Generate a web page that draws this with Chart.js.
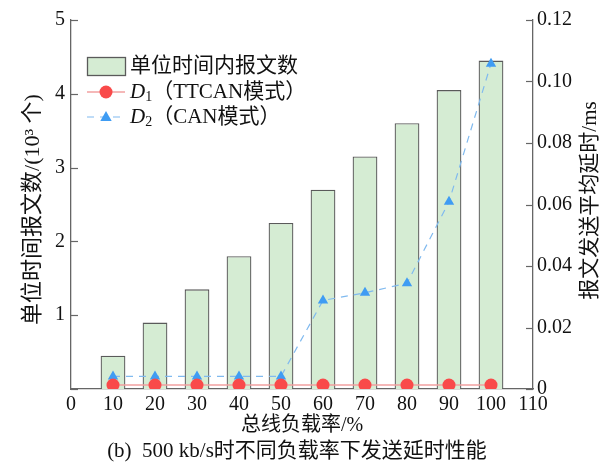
<!DOCTYPE html>
<html><head><meta charset="utf-8">
<script src="https://cdn.jsdelivr.net/npm/chart.js@4.4.1/dist/chart.umd.min.js"></script>
<style>html,body{margin:0;padding:0;background:#fff}#wrap{width:609px;height:462px;position:relative}</style>
</head><body><div id="wrap"><canvas id="c" width="609" height="462"></canvas></div>
<script>
const loads = [10, 20, 30, 40, 50, 60, 70, 80, 90, 100];
const msgCounts = [0.45, 0.9, 1.35, 1.8, 2.25, 2.7, 3.15, 3.6, 4.05, 4.45];
const d1Delay = [0.0013, 0.0013, 0.0013, 0.0013, 0.0013, 0.0013, 0.0013, 0.0013, 0.0013, 0.0013];
const d2Delay = [0.0041, 0.0041, 0.0041, 0.0041, 0.0041, 0.0288, 0.0313, 0.0344, 0.0609, 0.1058];
const xTickValues = [0, 10, 20, 30, 40, 50, 60, 70, 80, 90, 100, 110];
const leftTickValues = [0, 1, 2, 3, 4, 5];
const rightTickValues = [0, 0.02, 0.04, 0.06, 0.08, 0.10, 0.12];
const labels = {
  bars: '单位时间内报文数',
  d1: '（TTCAN模式）',
  d2: '（CAN模式）',
  xTitle: '总线负载率/%',
  yLeftTitle: '单位时间报文数/(10³ 个)',
  yRightTitle: '报文发送平均延时/ms',
  caption: '(b)  500 kb/s时不同负载率下发送延时性能'
};

const FONT = '"Liberation Serif","Noto Sans CJK SC",serif';
const AXIS = '#666666';

const extras = {
  id: 'extras',
  afterDraw(chart) {
    const ctx = chart.ctx;
    const a = chart.chartArea;
    const yl = chart.scales.y, yr = chart.scales.y1;
    ctx.save();
    // inward ticks
    ctx.strokeStyle = AXIS; ctx.lineWidth = 1.2;
    leftTickValues.forEach(v => {
      const p = Math.round(yl.getPixelForValue(v)) + 0.5;
      ctx.beginPath(); ctx.moveTo(a.left, p); ctx.lineTo(a.left + 7, p); ctx.stroke();
    });
    rightTickValues.forEach(v => {
      const p = Math.round(yr.getPixelForValue(v)) + 0.5;
      ctx.beginPath(); ctx.moveTo(a.right, p); ctx.lineTo(a.right - 7, p); ctx.stroke();
    });
    ctx.fillStyle = '#111';
    ctx.textAlign = 'center'; ctx.textBaseline = 'middle';
    const cx = (a.left + a.right) / 2, cy = (a.top + a.bottom) / 2;
    // x title and caption
    ctx.font = '20px ' + FONT;
    ctx.fillText(labels.xTitle, cx, 426);
    ctx.font = '21px ' + FONT;
    ctx.fillText(labels.caption, cx - 5, 451);
    // left title
    ctx.font = '22px ' + FONT;
    ctx.save(); ctx.translate(33, cy + 5); ctx.rotate(-Math.PI / 2);
    ctx.fillText(labels.yLeftTitle, 0, 0); ctx.restore();
    // right title
    ctx.font = '21px ' + FONT;
    ctx.save(); ctx.translate(590, cy - 4); ctx.rotate(-Math.PI / 2);
    ctx.fillText(labels.yRightTitle, 0, 0); ctx.restore();

    // legend
    const ds = chart.data.datasets;
    const lx = 87, lw = 38, tx = 130;
    const rows = [66, 92, 117];
    ctx.fillStyle = ds[0].backgroundColor; ctx.strokeStyle = ds[0].borderColor; ctx.lineWidth = 1.3;
    ctx.fillRect(lx, rows[0] - 9, lw, 18); ctx.strokeRect(lx + 0.5, rows[0] - 9 + 0.5, lw, 18);
    ctx.strokeStyle = ds[1].borderColor; ctx.lineWidth = ds[1].borderWidth; ctx.setLineDash([]);
    ctx.beginPath(); ctx.moveTo(lx, rows[1]); ctx.lineTo(lx + lw, rows[1]); ctx.stroke();
    ctx.fillStyle = ds[1].pointBackgroundColor;
    ctx.beginPath(); ctx.arc(lx + lw / 2, rows[1], ds[1].pointRadius, 0, Math.PI * 2); ctx.fill();
    ctx.strokeStyle = ds[2].borderColor; ctx.lineWidth = ds[2].borderWidth; ctx.setLineDash(ds[2].borderDash);
    ctx.beginPath(); ctx.moveTo(lx, rows[2]); ctx.lineTo(lx + lw, rows[2]); ctx.stroke();
    ctx.setLineDash([]);
    ctx.fillStyle = ds[2].pointBackgroundColor;
    const r = ds[2].pointRadius, mx = lx + lw / 2, my = rows[2];
    ctx.beginPath(); ctx.moveTo(mx, my - r); ctx.lineTo(mx + r * 0.95, my + r * 0.65); ctx.lineTo(mx - r * 0.95, my + r * 0.65); ctx.closePath(); ctx.fill();
    ctx.fillStyle = '#111'; ctx.textAlign = 'left'; ctx.textBaseline = 'middle';
    ctx.font = '21px ' + FONT;
    ctx.fillText(labels.bars, tx, rows[0]);
    [[rows[1], '1', labels.d1], [rows[2], '2', labels.d2]].forEach(([y, sub, rest]) => {
      ctx.font = 'italic 21px ' + FONT;
      ctx.fillText('D', tx, y);
      let w = ctx.measureText('D').width;
      ctx.font = '14px ' + FONT;
      ctx.fillText(sub, tx + w, y + 5);
      w += ctx.measureText(sub).width;
      ctx.font = '21px ' + FONT;
      ctx.fillText(rest, tx + w, y);
    });
    ctx.restore();
  }
};

new Chart(document.getElementById('c'), {
  type: 'bar',
  data: {
    datasets: [
      {
        type: 'bar', label: labels.bars,
        data: loads.map((x, i) => ({ x: x, y: msgCounts[i] })),
        backgroundColor: '#d5ecd3', borderColor: '#5a5a5a', borderWidth: 1.3,
        barPercentage: 0.59, categoryPercentage: 1, yAxisID: 'y', order: 3
      },
      {
        type: 'line', label: 'D1' + labels.d1,
        data: loads.map((x, i) => ({ x: x, y: d1Delay[i] })),
        borderColor: '#f2a0a0', borderWidth: 1.5, pointRadius: 6.5, pointHoverRadius: 6.5,
        pointBackgroundColor: '#f94a4a', pointBorderWidth: 0, pointStyle: 'circle',
        yAxisID: 'y1', order: 1, tension: 0
      },
      {
        type: 'line', label: 'D2' + labels.d2,
        data: loads.map((x, i) => ({ x: x, y: d2Delay[i] })),
        borderColor: '#80baef', borderWidth: 1.2, borderDash: [7, 6],
        pointRadius: 6, pointHoverRadius: 6, pointBackgroundColor: '#3f9cf3', pointBorderWidth: 0,
        pointStyle: 'triangle', yAxisID: 'y1', order: 2, tension: 0
      }
    ]
  },
  options: {
    responsive: false, animation: false, devicePixelRatio: 1,
    layout: { padding: { top: 20, left: 0, right: 0, bottom: 0 } },
    plugins: { legend: { display: false }, tooltip: { enabled: false }, title: { display: false } },
    scales: {
      x: {
        type: 'linear', min: 0, max: 110, offset: false,
        afterBuildTicks: s => { s.ticks = xTickValues.map(v => ({ value: v })); },
        afterFit: s => { s.height = 73; },
        grid: { display: false, drawTicks: false },
        border: { display: true, color: AXIS, width: 1.3 },
        ticks: { color: '#111', font: { family: FONT, size: 20 }, padding: 4, maxRotation: 0, autoSkip: false }
      },
      y: {
        position: 'left', min: 0, max: 5,
        afterBuildTicks: s => { s.ticks = leftTickValues.map(v => ({ value: v })); },
        afterFit: s => { s.width = 71; },
        grid: { display: false, drawTicks: false },
        border: { display: true, color: AXIS, width: 1.3 },
        ticks: { color: '#111', font: { family: FONT, size: 20 }, padding: 6, callback: v => v === 0 ? '' : String(v) }
      },
      y1: {
        position: 'right', min: 0, max: 0.12,
        afterBuildTicks: s => { s.ticks = rightTickValues.map(v => ({ value: v })); },
        afterFit: s => { s.width = 76; },
        grid: { display: false, drawTicks: false },
        border: { display: true, color: AXIS, width: 1.3 },
        ticks: { color: '#111', font: { family: FONT, size: 20 }, padding: 4, callback: v => v === 0 ? '0' : v.toFixed(2) }
      }
    }
  },
  plugins: [extras]
});
</script></body></html>
